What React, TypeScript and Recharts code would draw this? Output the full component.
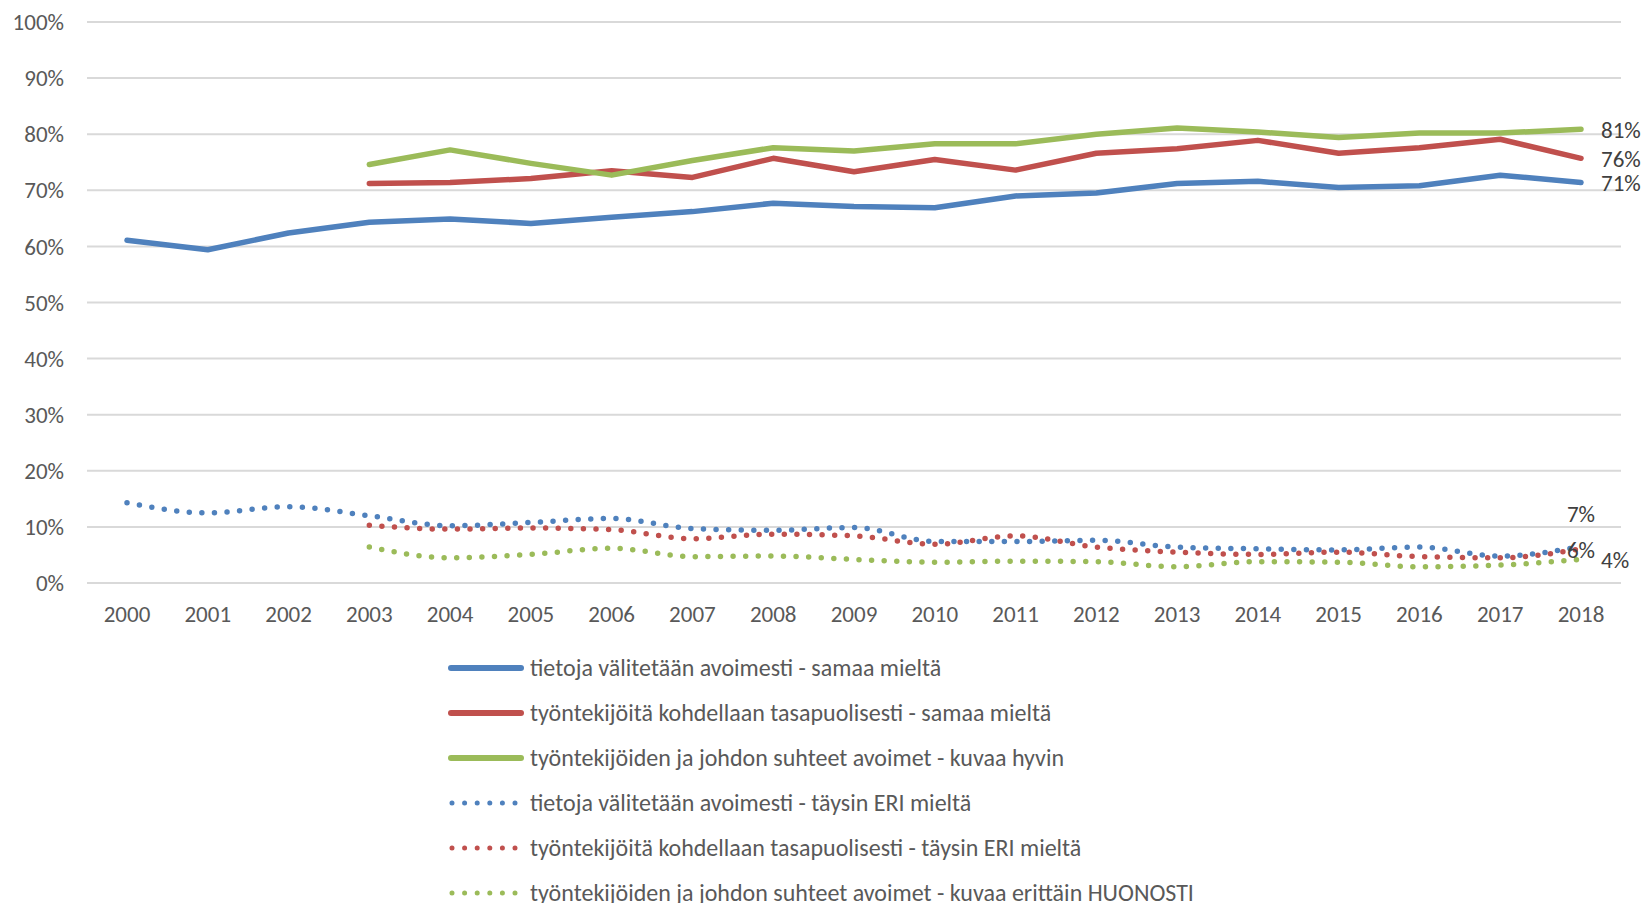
import React from 'react';
import { LineChart, Line, XAxis, YAxis, CartesianGrid, Legend } from 'recharts';

const years = ['2000','2001','2002','2003','2004','2005','2006','2007','2008','2009','2010','2011','2012','2013','2014','2015','2016','2017','2018'];
const blueAgree = [61.1,59.4,62.4,64.3,64.9,64.1,65.2,66.2,67.7,67.1,66.9,69.0,69.5,71.2,71.6,70.5,70.8,72.7,71.4];
const redAgree = [null,null,null,71.2,71.4,72.1,73.5,72.3,75.7,73.3,75.5,73.6,76.6,77.4,78.9,76.6,77.6,79.1,75.7];
const greenGood = [null,null,null,74.6,77.2,74.8,72.7,75.3,77.6,77.0,78.3,78.3,80.0,81.1,80.4,79.4,80.2,80.2,80.9];
const blueDisagree = [14.3,12.5,13.6,12.0,10.2,10.8,11.5,9.7,9.4,9.9,7.4,7.4,7.6,6.4,6.1,5.9,6.4,4.8,6.5];
const redDisagree = [null,null,null,10.3,9.6,9.8,9.5,7.9,8.7,8.4,6.9,8.4,6.4,5.5,5.1,5.5,4.7,4.5,6.1];
const greenPoor = [null,null,null,6.4,4.5,5.1,6.2,4.7,4.8,4.2,3.7,3.9,3.8,2.9,3.8,3.7,2.9,3.2,4.2];
const yTicks = [0,10,20,30,40,50,60,70,80,90,100];

const seriesNames = [
  'tietoja välitetään avoimesti - samaa mieltä',
  'työntekijöitä kohdellaan tasapuolisesti - samaa mieltä',
  'työntekijöiden ja johdon suhteet avoimet - kuvaa hyvin',
  'tietoja välitetään avoimesti - täysin ERI mieltä',
  'työntekijöitä kohdellaan tasapuolisesti - täysin ERI mieltä',
  'työntekijöiden ja johdon suhteet  avoimet - kuvaa erittäin HUONOSTI',
];
const seriesValues = [blueAgree, redAgree, greenGood, blueDisagree, redDisagree, greenPoor];

const BLUE = '#4F81BD';
const RED = '#C0504D';
const GREEN = '#9BBB59';
const FONT = 'Carlito, Calibri, Lato, sans-serif';
const TICK_SIZE = 23;

const seriesStyle = [
  { key: 's0', color: BLUE, dotted: false, label: 'right' },
  { key: 's1', color: RED, dotted: false, label: 'right' },
  { key: 's2', color: GREEN, dotted: false, label: 'right' },
  { key: 's3', color: BLUE, dotted: true, label: 'above' },
  { key: 's4', color: RED, dotted: true, label: 'center' },
  { key: 's5', color: GREEN, dotted: true, label: 'right' },
];

const data = years.map((y, i) => {
  const row: any = { year: y };
  seriesStyle.forEach((s, k) => { row[s.key] = seriesValues[k][i]; });
  return row;
});

const lastIndex = years.length - 1;

const makeLabel = (mode: string) => (props: any) => {
  const { x, y, value, index } = props;
  if (index !== lastIndex || value == null) return <g />;
  let tx = x + 20;
  let ty = y + 1;
  let anchor = 'start';
  if (mode === 'above') { tx = x; ty = y - 33; anchor = 'middle'; }
  if (mode === 'center') { tx = x; ty = y + 1; anchor = 'middle'; }
  return (
    <text x={tx} y={ty} textAnchor={anchor} dominantBaseline="central" fill="#404040" fontSize={TICK_SIZE} fontFamily={FONT}>
      {`${Math.round(value)}%`}
    </text>
  );
};

const LegendContent = () => (
  <div style={{ fontFamily: FONT, fontSize: 24, color: '#595959' }}>
    {seriesStyle.map((s, i) => (
      <div key={s.key} style={{ display: 'flex', alignItems: 'center', height: 45, whiteSpace: 'nowrap' }}>
        <svg width={76} height={10} style={{ marginRight: 6 }}>
          {s.dotted ? (
            <line x1={4} y1={5} x2={70} y2={5} stroke={s.color} strokeWidth={5} strokeLinecap="round" strokeDasharray="0 12.6" />
          ) : (
            <line x1={3} y1={5} x2={73} y2={5} stroke={s.color} strokeWidth={6} strokeLinecap="round" />
          )}
        </svg>
        <span>{seriesNames[i]}</span>
      </div>
    ))}
  </div>
);

export default function App() {
  return (
    <div style={{ position: 'absolute', left: 0, top: 0, width: 1645, height: 903, background: '#fff', overflow: 'hidden' }}>
      <LineChart width={1645} height={903} data={data} margin={{ top: 22, right: 24, left: 0, bottom: 260 }}>
        <CartesianGrid vertical={false} stroke="#D9D9D9" strokeWidth={2} />
        <XAxis dataKey="year" axisLine={false} tickLine={false} tickSize={0} tickMargin={23} height={60}
          padding={{ left: 40, right: 40 }}
          tick={{ fill: '#595959', fontSize: TICK_SIZE, fontFamily: FONT }} interval={0} />
        <YAxis domain={[0, 100]} ticks={yTicks} axisLine={false} tickLine={false} tickSize={0} tickMargin={23} width={87}
          tickFormatter={(v: number) => `${v}%`} tick={{ fill: '#595959', fontSize: TICK_SIZE, fontFamily: FONT }} />
        <Legend layout="vertical" align="center" verticalAlign="middle" content={<LegendContent />}
          wrapperStyle={{ left: 448, top: 645, width: 'auto', height: 'auto' }} />
        {seriesStyle.map((s, i) => (
          <Line key={s.key} dataKey={s.key} name={seriesNames[i]} stroke={s.color}
            type={s.dotted ? 'monotone' : 'linear'}
            strokeWidth={5.5}
            strokeLinecap="round" strokeLinejoin="round"
            strokeDasharray={s.dotted ? '0 12.6' : undefined}
            dot={false} activeDot={false} isAnimationActive={false}
            label={makeLabel(s.label)} />
        ))}
      </LineChart>
    </div>
  );
}
